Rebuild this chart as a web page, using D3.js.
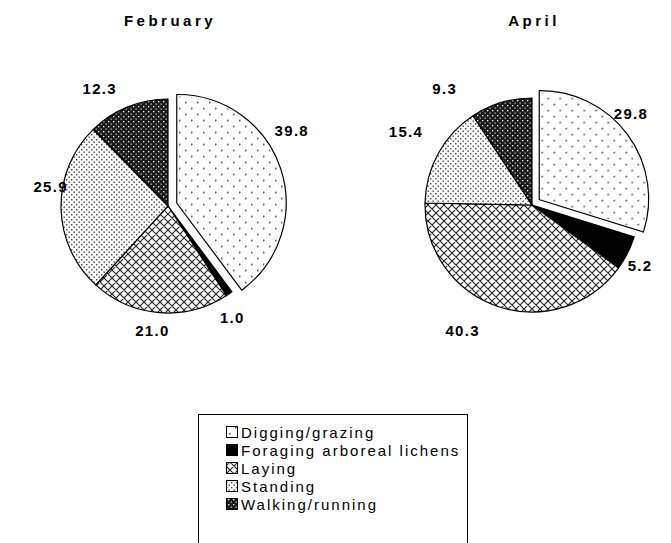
<!DOCTYPE html>
<html>
<head>
<meta charset="utf-8">
<script src="https://cdn.jsdelivr.net/npm/d3@7"></script>
<style>
  body { margin: 0; background: #fff; }
  svg { display: block; }
  text { font-family: "Liberation Sans", Arial, sans-serif; fill: #000; }
</style>
</head>
<body>
<svg id="chart" width="671" height="543"></svg>
<script>
// activity categories, same order in both months (clockwise from 12 o'clock)
const categories = ["Digging/grazing", "Foraging arboreal lichens", "Laying", "Standing", "Walking/running"];
const patterns = ["pDig", "pFor", "pLay", "pStand", "pWalk"];
const months = ["February", "April"];
const febValues = [39.8, 1.0, 21.0, 25.9, 12.3];
const aprValues = [29.8, 5.2, 40.3, 15.4, 9.3];

// label placement (hand-moved in the original): degrees off the slice middle, distance from pie centre
const febLabelTurn = [-13, 5, 2.5, 10.5, -8];
const febLabelDist = [145, 129, 125, 119, 136];
const aprLabelTurn = [-6.5, 2.7, 10.5, 1.5, -20];
const aprLabelDist = [135, 124, 143, 146, 146];

const svg = d3.select("#chart");
const r = 107;

// fill patterns (black & white print style)
const defs = svg.append("defs");

let p = defs.append("pattern").attr("id", "pDig").attr("patternUnits", "userSpaceOnUse")
  .attr("width", 12).attr("height", 12);
p.append("rect").attr("width", 12).attr("height", 12).attr("fill", "#fff");
p.append("rect").attr("x", 1).attr("y", 1).attr("width", 1.5).attr("height", 1.5).attr("fill", "#333");
p.append("rect").attr("x", 7).attr("y", 7).attr("width", 1.5).attr("height", 1.5).attr("fill", "#333");

p = defs.append("pattern").attr("id", "pFor").attr("patternUnits", "userSpaceOnUse")
  .attr("width", 4).attr("height", 4);
p.append("rect").attr("width", 4).attr("height", 4).attr("fill", "#000");

p = defs.append("pattern").attr("id", "pLay").attr("patternUnits", "userSpaceOnUse")
  .attr("width", 8).attr("height", 8);
p.append("rect").attr("width", 8).attr("height", 8).attr("fill", "#fff");
p.append("path").attr("d", "M0,0L8,8M8,0L0,8M-1,7L1,9M7,-1L9,1M-1,1L1,-1M7,9L9,7")
  .attr("stroke", "#222").attr("stroke-width", 1.1);

p = defs.append("pattern").attr("id", "pStand").attr("patternUnits", "userSpaceOnUse")
  .attr("width", 5).attr("height", 5);
p.append("rect").attr("width", 5).attr("height", 5).attr("fill", "#fff");
p.append("rect").attr("x", 0.5).attr("y", 0.5).attr("width", 1.4).attr("height", 1.4).attr("fill", "#444");
p.append("rect").attr("x", 3).attr("y", 3).attr("width", 1.4).attr("height", 1.4).attr("fill", "#444");

p = defs.append("pattern").attr("id", "pWalk").attr("patternUnits", "userSpaceOnUse")
  .attr("width", 5).attr("height", 5);
p.append("rect").attr("width", 5).attr("height", 5).attr("fill", "#1a1a1a");
p.append("rect").attr("x", 0).attr("y", 0).attr("width", 1.3).attr("height", 1.3).attr("fill", "#fff");
p.append("rect").attr("x", 2.5).attr("y", 2.5).attr("width", 1.3).attr("height", 1.3).attr("fill", "#bbb");

const pie = d3.pie().sort(null).value(d => d);
const arc = d3.arc().innerRadius(0).outerRadius(r);

function drawPie(values, title, turns, dists, cx, cy) {
  const g = svg.append("g").attr("transform", `translate(${cx},${cy})`);
  const arcs = pie(values);

  svg.append("text")
    .attr("x", cx + 2).attr("y", 26)
    .attr("text-anchor", "middle")
    .style("font-size", "15px").style("font-weight", "bold").style("letter-spacing", "3.5px")
    .text(title);

  arcs.forEach((a, i) => {
    const mid = (a.startAngle + a.endAngle) / 2;
    const off = i === 0 ? 10.5 : 0;   // first slice pulled out
    const dx = Math.sin(mid) * off, dy = -Math.cos(mid) * off;
    const sg = g.append("g").attr("transform", `translate(${dx},${dy})`);
    if (i === 0) {
      sg.append("path").attr("d", arc(a)).attr("fill", "#fff")
        .attr("stroke", "#000").attr("stroke-width", 3.6).attr("stroke-linejoin", "miter");
      sg.append("path").attr("d", arc(a)).attr("fill", `url(#${patterns[i]})`)
        .attr("stroke", "#fff").attr("stroke-width", 1.2);
    } else {
      sg.append("path").attr("d", arc(a)).attr("fill", `url(#${patterns[i]})`)
        .attr("stroke", "#000").attr("stroke-width", 1.2);
    }
    const la = mid + turns[i] * Math.PI / 180;
    g.append("text")
      .attr("x", Math.sin(la) * dists[i])
      .attr("y", -Math.cos(la) * dists[i])
      .attr("text-anchor", "middle")
      .attr("dominant-baseline", "central")
      .style("font-size", "15px").style("font-weight", "bold").style("letter-spacing", "1.3px")
      .text(values[i].toFixed(1));
  });
}

drawPie(febValues, months[0], febLabelTurn, febLabelDist, 168, 206);
drawPie(aprValues, months[1], aprLabelTurn, aprLabelDist, 532, 205);

// legend
const legend = svg.append("g").attr("transform", "translate(198,414)");
legend.append("rect").attr("x", 0.5).attr("y", 0.5).attr("width", 269).attr("height", 160)
  .attr("fill", "#fff").attr("stroke", "#000").attr("stroke-width", 1);
categories.forEach((c, i) => {
  const y = 18 + i * 18;
  legend.append("rect").attr("x", 28.5).attr("y", y - 5.5).attr("width", 11).attr("height", 11)
    .attr("fill", `url(#${patterns[i]})`).attr("stroke", "#000").attr("stroke-width", 1);
  legend.append("text").attr("x", 43).attr("y", y)
    .attr("dominant-baseline", "central")
    .style("font-size", "15px").style("letter-spacing", "2px")
    .text(c);
});
</script>
</body>
</html>
